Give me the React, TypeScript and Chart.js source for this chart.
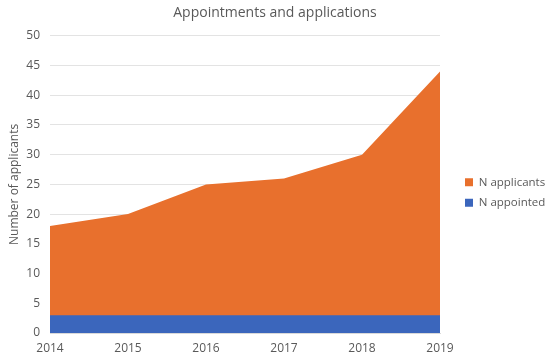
import React, { useEffect, useRef } from "react";
import { Chart, registerables } from "chart.js";

Chart.register(...registerables);

const years = ["2014", "2015", "2016", "2017", "2018", "2019"];
const applicants = [18, 20, 25, 26, 30, 44];
const appointed = [3, 3, 3, 3, 3, 3];
const titleText = "Appointments and applications";
const yTitle = "Number of applicants";

const FONT = "'Open Sans', 'Noto Sans', sans-serif";
const TEXT = "#595959";

const legendPlacer = {
  id: "legendPlacer",
  afterInit(chart: any) {
    const lg = chart.legend;
    if (!lg) return;
    const orig = lg.fit.bind(lg);
    lg.fit = function () {
      orig();
      this.width = 110;
    };
  },
  afterLayout(chart: any) {
    const lg = chart.legend;
    if (!lg) return;
    lg.left += 16;
    lg.right += 16;
    lg.top += 13;
    lg.bottom += 13;
  },
};

export default function App() {
  const ref = useRef<HTMLCanvasElement | null>(null);
  useEffect(() => {
    if (!ref.current) return;
    const chart = new Chart(ref.current, {
      type: "line",
      data: {
        labels: years,
        datasets: [
          {
            label: "N appointed",
            data: appointed,
            backgroundColor: "#3B66BC",
            borderColor: "#3B66BC",
            borderWidth: 0,
            pointRadius: 0,
            fill: "origin",
            tension: 0,
          },
          {
            label: "N applicants",
            data: applicants,
            backgroundColor: "#E8702D",
            borderColor: "#E8702D",
            borderWidth: 0,
            pointRadius: 0,
            fill: "origin",
            tension: 0,
          },
        ],
      },
      plugins: [legendPlacer],
      options: {
        animation: false,
        responsive: true,
        maintainAspectRatio: false,
        layout: { padding: { left: 0, right: 0, top: 0, bottom: 0 } },
        plugins: {
          title: {
            display: true,
            text: titleText,
            color: TEXT,
            font: { family: FONT, size: 14, weight: "normal" },
            padding: { top: 5, bottom: 14 },
          },
          legend: {
            position: "right",
            reverse: true,
            labels: {
              boxWidth: 8,
              boxHeight: 8,
              color: TEXT,
              font: { family: FONT, size: 11.5 },
              padding: 9,
            },
          },
          tooltip: { enabled: false },
        },
        scales: {
          x: {
            offset: false,
            grid: { display: false, drawTicks: false },
            border: { display: true, color: "#d9d9d9" },
            ticks: {
              color: TEXT,
              font: { family: FONT, size: 12 },
              padding: 8,
              maxRotation: 0,
            },
            afterFit: (s: any) => {
              s.height = 26;
            },
          },
          y: {
            min: 0,
            max: 50,
            ticks: {
              stepSize: 5,
              color: TEXT,
              font: { family: FONT, size: 12 },
              padding: 10,
            },
            grid: { color: "#e3e3e3", drawTicks: false },
            border: { display: false },
            title: {
              display: true,
              text: yTitle,
              color: TEXT,
              font: { family: FONT, size: 12 },
              padding: { top: 7, bottom: 0 },
            },
            afterFit: (s: any) => {
              s.width = 50;
            },
          },
        },
      },
    });
    return () => chart.destroy();
  }, []);
  return (
    <div style={{ position: "absolute", left: 0, top: 0, width: 550, height: 359 }}>
      <canvas ref={ref} />
    </div>
  );
}
